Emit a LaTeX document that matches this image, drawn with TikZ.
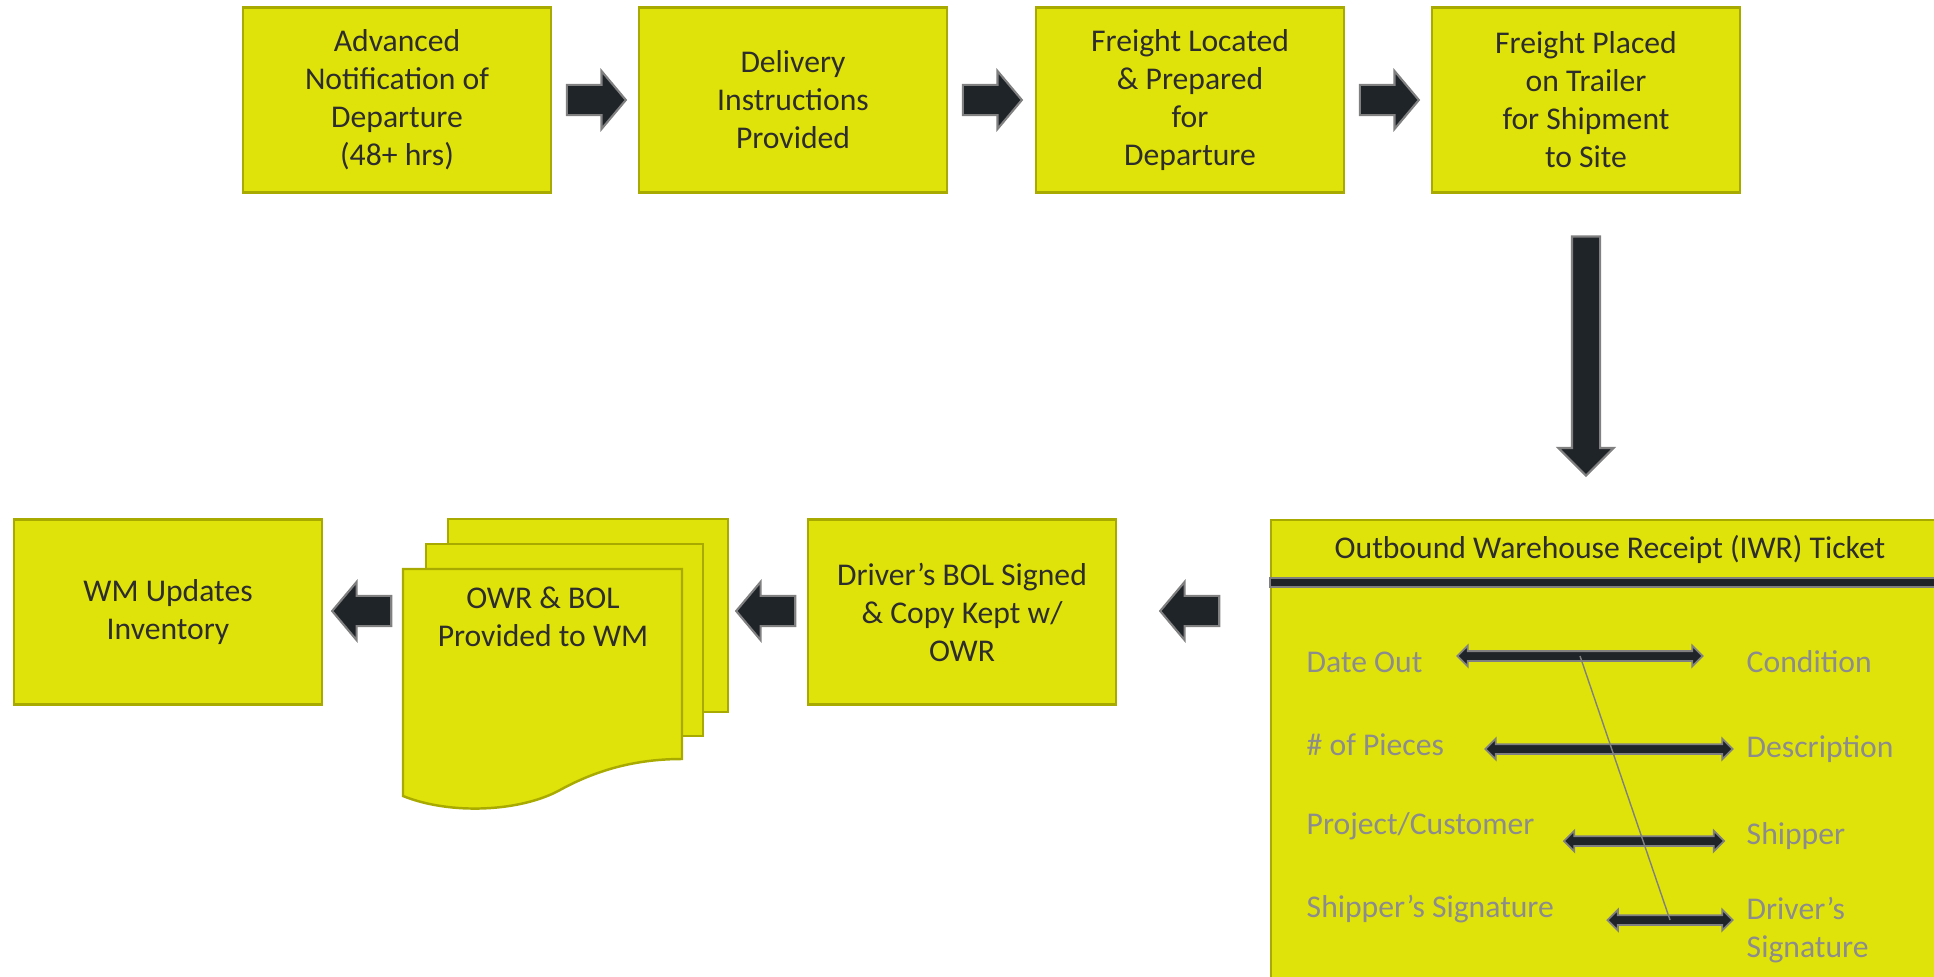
\documentclass[tikz,border=0pt]{standalone}
\usepackage{fontspec}
\setmainfont{Carlito}
\usetikzlibrary{shapes.arrows}
\definecolor{amarillo}{RGB}{224,227,10}
\definecolor{borde}{RGB}{168,170,0}
\definecolor{oscuro}{RGB}{31,36,41}
\definecolor{contorno}{RGB}{128,128,128}
\definecolor{letra}{RGB}{45,45,45}
\definecolor{tenue}{RGB}{140,140,140}
\tikzstyle{caja}=[rectangle, draw=borde, fill=amarillo, line width=0.7pt, text=letra, align=center, minimum width=3.08cm, minimum height=1.85cm, inner sep=0pt, font=\fontsize{9}{10.8}\selectfont]
\tikzstyle{hoja}=[draw=borde, fill=amarillo, line width=0.7pt]
\tikzstyle{flecha}=[single arrow, draw=contorno, fill=oscuro, line width=0.6pt, inner xsep=0pt, inner ysep=0.14cm, minimum height=0.59cm, single arrow head extend=0.14cm, single arrow tip angle=100]
\tikzstyle{doble}=[double arrow, draw=contorno, fill=oscuro, line width=0.5pt, inner xsep=0pt, inner ysep=0.04cm, double arrow head extend=0.055cm, double arrow tip angle=90]
\tikzstyle{campo}=[text=tenue, font=\fontsize{9}{10.8}\selectfont, anchor=west, inner sep=0pt, align=left]

\begin{document}
\begin{tikzpicture}[x=0.01cm, y=-0.01cm]
            \useasboundingbox (0,0) rectangle (1934,976);

            % cajas de arriba
            \node[caja] (aviso) at (397,100) {Advanced\\Notification of\\Departure\\(48+ hrs)};
            \node[caja] (instr) at (793,100) {Delivery\\Instructions\\Provided};
            \node[caja] (ubic) at (1190,100) {Freight Located\\\& Prepared\\for\\Departure};
            \node[caja] (carga) at (1586,100) {Freight Placed\\on Trailer\\for Shipment\\to Site};

            \node[flecha] (f1) at (590,100) {};
            \node[flecha] (f2) at (986,100) {};
            \node[flecha] (f3) at (1383,100) {};
            \node[flecha, shape border rotate=270, minimum height=2.39cm, inner xsep=0.13cm, inner ysep=0pt, single arrow head extend=0.135cm, single arrow tip angle=90] (f4) at (1586,349) {};

            % ticket
            \node[caja, anchor=north west, minimum width=6.70cm, minimum height=4.70cm] (ticket) at (1270,519) {};
            \node[text=letra, font=\fontsize{9}{10.8}\selectfont] (titulo) at (1610,549) {Outbound Warehouse Receipt (IWR) Ticket};
            \draw[draw=contorno, fill=oscuro, line width=0.6pt] (1270,578) rectangle (1940,587);

            \node[campo] (fecha) at (1306,662) {Date Out};
            \node[campo] (piezas) at (1306,745) {\# of Pieces};
            \node[campo] (proy) at (1306,826) {Project/Customer};
            \node[campo] (firma1) at (1306,909) {Shipper’s Signature};
            \node[campo] (cond) at (1746,662) {Condition};
            \node[campo] (desc) at (1746,749) {Description};
            \node[campo] (remit) at (1746,836) {Shipper};
            \node[campo] (firma2) at (1746,930) {Driver’s\\Signature};

            \node[doble, minimum height=2.45cm] (d1) at (1580,656) {};
            \node[doble, minimum height=2.47cm] (d2) at (1609,749) {};
            \node[doble, minimum height=1.60cm] (d3) at (1644,841) {};
            \node[doble, minimum height=1.25cm] (d4) at (1670,920) {};
            \draw[contorno, line width=0.4pt] (d1.center) -- (d4.center);

            % fila de abajo
            \node[caja] (chofer) at (962,612) {Driver’s BOL Signed\\\& Copy Kept w/\\OWR};
            \draw[hoja] (448,519) rectangle (728,712);
            \draw[hoja] (426,544) rectangle (703,736);
            \draw[hoja] (403,569) -- (682,569) -- (682,759) .. controls (640,759) and (600,768) .. (560,790) .. controls (520,812) and (450,815) .. (403,796) -- cycle;
            \node[text=letra, font=\fontsize{9}{10.8}\selectfont, align=center] (docs) at (543,617) {OWR \& BOL\\Provided to WM};
            \node[caja] (inv) at (168,612) {WM Updates\\Inventory};

            \node[flecha, shape border rotate=180] (f5) at (1196,611) {};
            \node[flecha, shape border rotate=180] (f6) at (772,611) {};
            \node[flecha, shape border rotate=180] (f7) at (368,611) {};
\end{tikzpicture}
\end{document}
